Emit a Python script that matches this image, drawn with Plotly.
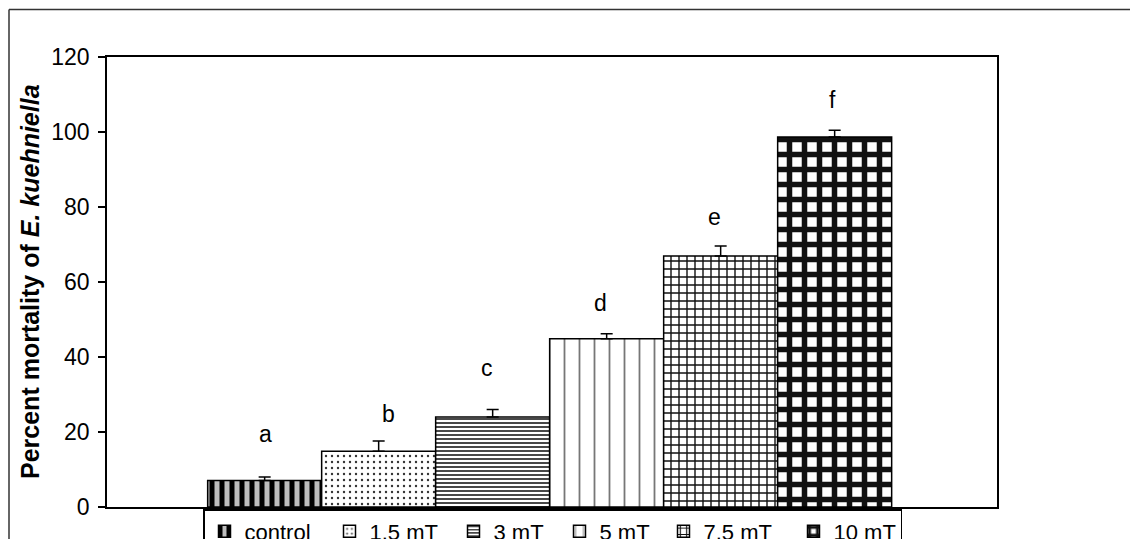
import plotly.graph_objects as go

# ---- data ----
series_names = ["control", "1.5 mT", "3 mT", "5 mT", "7.5 mT", "10 mT"]
mortality = [7.1, 14.9, 24.0, 44.9, 66.9, 98.7]
error_up = [0.9, 2.7, 2.0, 1.3, 2.7, 1.8]
sig_letters = ["a", "b", "c", "d", "e", "f"]
letter_y = [19.6, 24.9, 37.1, 54.5, 77.3, 108.5]
y_ticks = [0, 20, 40, 60, 80, 100, 120]
y_title = "<b>Percent mortality of <i>E. kuehniella</i></b>"

# ---- styles ----
patterns = [
    dict(shape="|", size=10, solidity=0.5, fgcolor="black", bgcolor="#bdbdbd", fillmode="replace"),
    dict(shape=".", size=6, solidity=0.12, fgcolor="#333333", bgcolor="white", fillmode="replace"),
    dict(shape="-", size=4, solidity=0.45, fgcolor="#333333", bgcolor="white", fillmode="replace"),
    dict(shape="|", size=15, solidity=0.12, fgcolor="#777777", bgcolor="white", fillmode="replace"),
    dict(shape="+", size=8, solidity=0.32, fgcolor="#111111", bgcolor="white", fillmode="replace"),
    dict(shape="+", size=15, solidity=0.6, fgcolor="#111111", bgcolor="white", fillmode="replace"),
]
legend_widths = [80, 79, 61, 59, 85, 62]
letter_xshift = [1, 10, -6, -6, -6, -2]
FONT = "Arial, Liberation Sans, sans-serif"

fig = go.Figure()
for i, name in enumerate(series_names):
    fig.add_trace(go.Bar(
        x=[i], y=[mortality[i]], name=name, width=1,
        marker=dict(color="white", pattern=patterns[i], line=dict(color="black", width=1.5)),
        error_y=dict(type="data", array=[error_up[i]], arrayminus=[0], symmetric=False,
                     color="black", thickness=1.5, width=6),
        legendwidth=legend_widths[i],
    ))
    fig.add_annotation(x=i, y=letter_y[i], xref="x", yref="y", text=sig_letters[i],
                       showarrow=False, xshift=letter_xshift[i],
                       font=dict(family=FONT, size=23, color="black"))

# page has an 8px body margin, so the figure is 8px smaller and offsets are shifted
W, H = 1130, 531
L, R, T, B = 99, 989, 49, 499
pw, ph = R - L, B - T

# y-axis title as a rotated annotation so it can be positioned precisely
fig.add_annotation(x=(22 - L) / pw, y=0.5, xref="paper", yref="paper",
                   text=y_title, textangle=-90, showarrow=False,
                   xanchor="center", yanchor="middle",
                   font=dict(family=FONT, size=25, color="black"))

fig.update_layout(
    width=W, height=H,
    margin=dict(l=L, r=W - R, t=T, b=H - B, autoexpand=False),
    paper_bgcolor="white", plot_bgcolor="white",
    barmode="overlay",
    showlegend=True,
    font=dict(family=FONT, size=22, color="black"),
    legend=dict(orientation="h", x=(195 - L) / pw, xanchor="left",
                y=(B - 501) / ph, yanchor="top",
                bordercolor="black", borderwidth=1.5, bgcolor="white",
                font=dict(family=FONT, size=22, color="black"),
                traceorder="normal"),
    xaxis=dict(range=[-1.383, 6.424], showticklabels=False, ticks="",
               showgrid=False, zeroline=False, showline=True, linecolor="black",
               linewidth=2, mirror=True),
    yaxis=dict(range=[0, 120], tickvals=y_ticks, ticks="outside", ticklen=7,
               tickwidth=1.5, tickcolor="black", showgrid=False, zeroline=False,
               showline=True, linecolor="black", linewidth=1.5, mirror=True,
               ticklabelstandoff=4,
               tickfont=dict(family=FONT, size=23, color="black")),
)

# outer frame (only top/left visible in the reference)
fx0 = (1 - L) / pw
fy1 = (B - 1.5) / ph
fig.add_shape(type="line", xref="paper", yref="paper", x0=fx0, x1=2, y0=fy1, y1=fy1,
              line=dict(color="#333333", width=1.5))
fig.add_shape(type="line", xref="paper", yref="paper", x0=fx0, x1=fx0, y0=-1, y1=fy1,
              line=dict(color="#333333", width=1.5))

fig.write_html("out.html")
